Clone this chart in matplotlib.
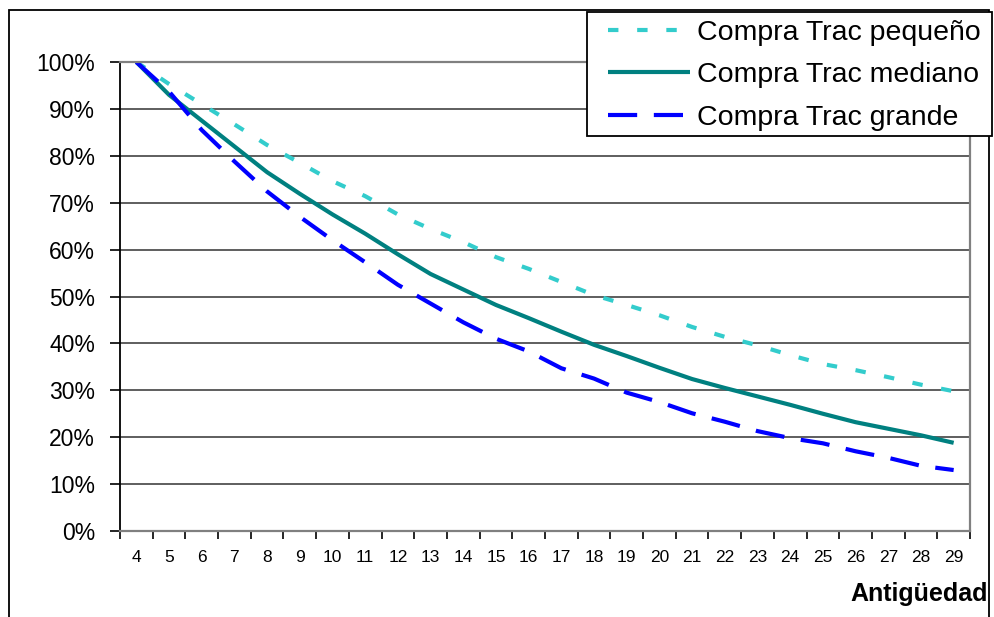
import matplotlib.pyplot as plt
from matplotlib.patches import Rectangle
from matplotlib.ticker import PercentFormatter, FixedLocator

plt.rcParams['font.family'] = ['Liberation Sans', 'DejaVu Sans']

# antiguedad (years) and residual value share per tractor size
antiguedad = [4, 5, 6, 7, 8, 9, 10, 11, 12, 13, 14, 15, 16,
              17, 18, 19, 20, 21, 22, 23, 24, 25, 26, 27, 28, 29]
pequeno = [100, 95.3, 91.0, 86.7, 82.3, 78.5, 74.6, 71.4, 67.5, 64.4, 61.6, 58.4, 55.9,
           53.1, 50.3, 48.2, 46.0, 43.5, 41.4, 39.6, 37.5, 35.6, 34.3, 32.8, 31.2, 29.8]
mediano = [100, 93.0, 87.5, 82.0, 76.5, 71.9, 67.5, 63.4, 59.0, 54.8, 51.5, 48.2, 45.4,
           42.5, 39.7, 37.3, 34.8, 32.4, 30.5, 28.7, 26.9, 25.0, 23.2, 21.8, 20.4, 18.8]
grande = [100, 93.7, 85.5, 78.8, 72.4, 67.0, 62.0, 57.3, 52.5, 48.5, 44.5, 41.0, 38.3,
          34.7, 32.5, 29.5, 27.5, 25.1, 23.3, 21.3, 19.8, 18.7, 17.0, 15.6, 13.9, 13.0]
series_names = ['Compra Trac pequeño', 'Compra Trac mediano', 'Compra Trac grande']

W, H = 994, 617
fig = plt.figure(figsize=(W / 100, H / 100), dpi=100)
ax = fig.add_axes([120 / W, 1 - 531 / H, 850 / W, 469 / H])

x = list(range(len(antiguedad)))
ax.plot(x, [v / 100 for v in pequeno], color='#33CCCC', lw=3,
        dashes=(2.5, 4.5), label=series_names[0])
ax.plot(x, [v / 100 for v in mediano], color='#008080', lw=3,
        solid_capstyle='butt', label=series_names[1])
ax.plot(x, [v / 100 for v in grande], color='#0000FF', lw=3,
        dashes=(7, 4), label=series_names[2])

ax.set_xlim(-0.5, len(antiguedad) - 0.5)
ax.set_ylim(0, 1)

# category labels centred, tick marks on the category borders
ax.set_xticks(x)
ax.set_xticklabels([str(a) for a in antiguedad], fontsize=12.5)
ax.tick_params(axis='x', which='major', length=0, pad=14)
ax.xaxis.set_minor_locator(FixedLocator([i - 0.5 for i in range(len(antiguedad) + 1)]))
ax.tick_params(axis='x', which='minor', length=6, width=1.2, direction='out')

ax.set_yticks([i / 10 for i in range(11)])
ax.yaxis.set_major_formatter(PercentFormatter(1.0, decimals=0))
ax.tick_params(axis='y', labelsize=16.5, length=7, width=1.2, pad=11)

ax.grid(axis='y', color='#333333', lw=1.1)
ax.set_axisbelow(True)
for side in ['top', 'right']:
    ax.spines[side].set_color('#808080')
    ax.spines[side].set_linewidth(1.6)
ax.spines['left'].set_linewidth(1.3)
ax.spines['bottom'].set_color('#808080')
ax.spines['bottom'].set_linewidth(1.6)

fig.text(988 / W, 1 - 594 / H, 'Antigüedad', fontsize=18, fontweight='bold',
         ha='right', va='center')

# outer chart frame
fig.patches.append(Rectangle((9 / W, -0.05), 980 / W, 1.05 - 10 / H,
                             transform=fig.transFigure, fill=False,
                             ec='black', lw=1.3))

# legend box, drawn as its own rectangle so the padding matches
fig.patches.append(Rectangle((587 / W, 1 - 136 / H), 405 / W, 124 / H,
                             transform=fig.transFigure, fc='white',
                             ec='black', lw=1.3, zorder=5))
leg = fig.legend(loc='upper left', bbox_to_anchor=(602 / W, 1 - 14 / H),
                 fontsize=20.5, handlelength=2.9, handletextpad=0.25,
                 borderpad=0.2, labelspacing=0.58, borderaxespad=0,
                 frameon=False)
leg.set_zorder(6)

fig.savefig('out.png', dpi=100)
